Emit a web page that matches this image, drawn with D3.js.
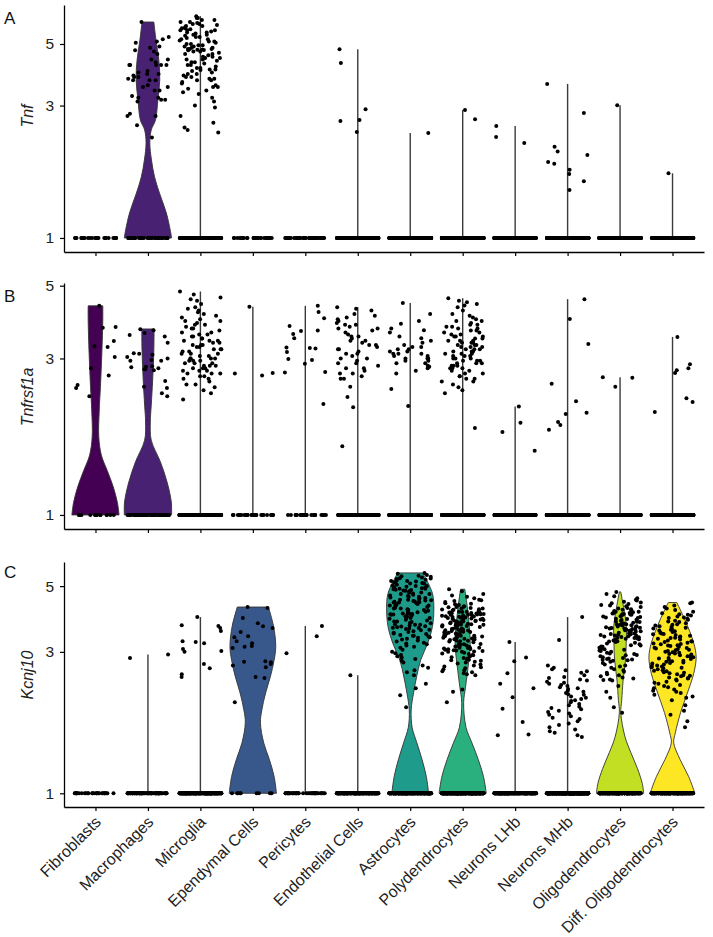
<!DOCTYPE html>
<html><head><meta charset="utf-8">
<script src="https://cdn.jsdelivr.net/npm/d3@7"></script>
<style>body{margin:0;background:#fff} text{font-family:"Liberation Sans",Arial,sans-serif}</style>
</head><body><svg id="c" width="713" height="937"></svg>
<script>
const categories = ["Fibroblasts","Macrophages","Microglia","Ependymal Cells","Pericytes","Endothelial Cells","Astrocytes","Polydendrocytes","Neurons LHb","Neurons MHb","Oligodendrocytes","Diff. Oligodendrocytes"];
const cellCounts = [28, 85, 280, 32, 45, 220, 420, 520, 260, 520, 380, 340];
const yTickValues = [1, 3, 5];
const genes = ["Tnf", "Tnfrsf1a", "Kcnj10"];
const panelLetters = ["A", "B", "C"];

// expressed values (plotted scale; 1 = not expressed), one list per category
const tnfValues = [
 [],
 [6.0,5.3,5.2,5.1,5.05,4.9,4.85,4.75,4.7,4.6,4.4,4.4,4.3,4.2,4.2,4.2,4.2,4.2,4.0,3.95,3.9,3.9,3.85,3.8,3.8,3.75,3.7,3.7,3.7,3.55,3.5,3.5,3.4,3.4,3.25,3.2,3.2,3.15,3.15,3.1,2.8,2.75,2.75,2.55,2.3],
 [6.3,6.2,6.2,6.1,6.1,6.0,6.0,5.95,5.9,5.9,5.85,5.8,5.8,5.75,5.7,5.7,5.65,5.6,5.6,5.6,5.55,5.5,5.5,5.45,5.4,5.4,5.35,5.3,5.3,5.25,5.2,5.2,5.15,5.1,5.1,5.05,5.0,5.0,4.95,4.95,4.9,4.9,4.85,4.85,4.8,4.8,4.8,4.78,4.77,4.76,4.75,4.7,4.7,4.65,4.6,4.6,4.55,4.5,4.5,4.45,4.45,4.4,4.4,4.35,4.3,4.3,4.25,4.2,4.2,4.15,4.1,4.1,4.05,4.05,4.03,4.0,3.95,3.9,3.9,3.85,3.8,3.8,3.75,3.75,3.7,3.7,3.65,3.6,3.55,3.5,3.5,3.45,3.4,3.35,3.3,3.2,3.1,3.0,2.95,2.75,2.6,2.5,2.45,2.4],
 [],
 [],
 [4.79,4.27,2.91,2.66,2.64,2.41],
 [2.39],
 [2.89,2.68],
 [2.53,2.31,2.2],
 [3.59,2.82,2.13,2.05,1.99,1.88,1.85,1.76,1.70,1.60,1.49],
 [3.01],
 [1.71]
];
const tnfrsf1aValues = [
 [4.34,3.74,3.72,3.39,3.27,3.25,3.03,2.80,2.66,2.49,2.44,2.30],
 [3.68,3.66,3.59,3.54,3.5,3.35,3.11,3.08,3.03,2.95,2.97,3.0,3.1,2.95,2.8,2.78,2.76,2.82,2.84,2.83,2.78,2.56,2.46,2.44,2.30,2.35],
 [4.8,4.7,4.6,4.55,4.5,4.4,4.3,4.25,4.2,4.15,4.1,4.05,4.0,3.95,3.9,3.9,3.85,3.8,3.8,3.75,3.7,3.7,3.65,3.6,3.6,3.55,3.55,3.5,3.5,3.45,3.45,3.4,3.4,3.4,3.35,3.35,3.3,3.3,3.3,3.25,3.25,3.2,3.2,3.2,3.15,3.15,3.1,3.1,3.1,3.05,3.05,3.0,3.0,3.0,3.0,2.95,2.95,2.95,2.9,2.9,2.9,2.85,2.85,2.85,2.8,2.8,2.8,2.75,2.75,2.75,2.7,2.7,2.7,2.65,2.65,2.6,2.6,2.55,2.5,2.5,2.45,2.4,2.35,2.25],
 [4.31,2.71,2.70,2.66],
 [4.34,4.16,3.98,3.77,3.65,3.64,3.46,3.56,3.24,3.23,3.22,3.14,2.99,2.97,2.89,2.73,2.72,2.18],
 [4.3,4.25,4.2,4.1,4.05,4.0,3.95,3.9,3.85,3.8,3.8,3.75,3.7,3.7,3.65,3.6,3.55,3.5,3.5,3.45,3.4,3.4,3.35,3.3,3.3,3.25,3.2,3.2,3.15,3.1,3.1,3.05,3.0,3.0,2.95,2.9,2.9,2.85,2.8,2.8,2.75,2.7,2.7,2.65,2.6,2.6,2.46,2.29,2.13,1.62],
 [4.43,4.1,3.9,3.83,3.7,3.66,3.6,3.5,3.46,3.4,3.35,3.3,3.25,3.25,3.2,3.2,3.15,3.15,3.1,3.1,3.1,3.05,3.05,3.0,3.0,3.0,2.95,2.95,2.9,2.9,2.85,2.83,2.8,2.75,2.7,2.42,2.15],
 [4.58,4.5,4.45,4.4,4.35,4.3,4.2,4.1,4.05,4.0,3.95,3.9,3.9,3.85,3.8,3.8,3.75,3.75,3.7,3.7,3.65,3.65,3.6,3.6,3.55,3.55,3.5,3.5,3.5,3.45,3.45,3.4,3.4,3.4,3.35,3.35,3.35,3.3,3.3,3.3,3.25,3.25,3.25,3.2,3.2,3.2,3.15,3.15,3.15,3.1,3.1,3.1,3.05,3.05,3.05,3.0,3.0,3.0,2.95,2.95,2.95,2.9,2.9,2.9,2.85,2.85,2.85,2.8,2.8,2.8,2.75,2.75,2.7,2.7,2.65,2.65,2.6,2.6,2.55,2.55,2.5,2.45,2.4,2.35,1.84],
 [2.14,1.91,1.79,1.57],
 [4.55,3.96,3.32,2.51,2.22,2.05,2.03,1.92,1.88,1.82],
 [2.63,2.62,2.46],
 [3.49,2.88,2.80,2.76,2.71,2.27,2.21,2.06]
];
const kcnj10Values = [
 [],
 [2.94,2.86],
 [3.93,3.69,3.67,3.61,3.53,3.26,3.24,3.21,3.07,3.02,3.0,2.73,2.64,2.52,2.47],
 [4.25,4.22,3.9,3.75,3.66,3.61,3.5,3.39,3.36,3.26,3.21,3.14,3.12,3.09,2.79,2.78,2.77,2.73,2.7,2.66,2.47,2.45,2.03],
 [3.67,3.39,2.97],
 [2.5],
 [5.54,5.5,5.45,5.42,5.4,5.38,5.35,5.32,5.3,5.28,5.25,5.22,5.2,5.2,5.18,5.15,5.12,5.1,5.1,5.08,5.05,5.02,5.0,5.0,4.98,4.95,4.95,4.92,4.9,4.9,4.88,4.86,4.85,4.83,4.82,4.8,4.78,4.76,4.75,4.72,4.7,4.7,4.68,4.65,4.63,4.6,4.6,4.58,4.56,4.55,4.52,4.5,4.5,4.48,4.47,4.45,4.44,4.43,4.42,4.41,4.4,4.4,4.38,4.36,4.35,4.33,4.3,4.3,4.28,4.25,4.23,4.2,4.2,4.18,4.16,4.15,4.13,4.1,4.1,4.08,4.06,4.05,4.04,4.03,4.02,4.01,4.0,4.0,3.98,3.96,3.95,3.92,3.9,3.9,3.88,3.85,3.83,3.8,3.8,3.78,3.76,3.75,3.72,3.7,3.7,3.68,3.66,3.65,3.63,3.62,3.61,3.6,3.58,3.56,3.55,3.52,3.5,3.48,3.46,3.45,3.42,3.4,3.4,3.38,3.36,3.35,3.32,3.3,3.28,3.25,3.22,3.2,3.18,3.15,3.12,3.1,3.05,3.0,2.97,2.93,2.9,2.87,2.84,2.8,2.76,2.7,2.65,2.6,2.56,2.5,2.34,2.26,2.14,1.95],
 [4.88,4.8,4.7,4.65,4.6,4.55,4.5,4.48,4.45,4.42,4.38,4.36,4.34,4.32,4.3,4.28,4.26,4.25,4.24,4.22,4.2,4.2,4.18,4.17,4.16,4.14,4.12,4.1,4.1,4.09,4.08,4.07,4.06,4.05,4.04,4.03,4.02,4.01,4.0,4.0,3.99,3.98,3.97,3.96,3.95,3.94,3.93,3.92,3.91,3.9,3.9,3.89,3.88,3.87,3.86,3.85,3.84,3.83,3.82,3.81,3.8,3.8,3.78,3.77,3.76,3.75,3.74,3.73,3.72,3.71,3.7,3.7,3.69,3.68,3.67,3.66,3.65,3.64,3.62,3.6,3.59,3.58,3.57,3.56,3.55,3.54,3.53,3.52,3.51,3.5,3.5,3.49,3.48,3.47,3.46,3.45,3.44,3.43,3.42,3.41,3.4,3.4,3.39,3.38,3.37,3.36,3.35,3.34,3.33,3.32,3.31,3.3,3.3,3.29,3.28,3.27,3.26,3.25,3.23,3.21,3.19,3.18,3.17,3.16,3.15,3.14,3.13,3.12,3.11,3.1,3.1,3.09,3.08,3.07,3.06,3.05,3.04,3.03,3.02,3.01,3.0,3.0,2.98,2.96,2.95,2.93,2.92,2.9,2.88,2.86,2.85,2.83,2.82,2.81,2.8,2.78,2.76,2.74,2.72,2.7,2.68,2.66,2.64,2.62,2.6,2.58,2.56,2.54,2.52,2.5,2.24,2.2,2.03],
 [3.24,2.87,2.79,2.54,2.34,2.26,2.11,1.93,1.74,1.58,1.57],
 [3.93,3.29,2.7,2.65,2.62,2.6,2.58,2.55,2.5,2.47,2.45,2.42,2.4,2.38,2.36,2.34,2.32,2.3,2.28,2.26,2.25,2.22,2.2,2.18,2.16,2.15,2.12,2.1,2.08,2.06,2.05,2.03,2.0,1.98,1.96,1.94,1.92,1.9,1.88,1.86,1.84,1.82,1.8,1.78,1.75,1.72,1.7,1.67,1.64,1.62,1.6,1.57,1.55],
 [4.78,4.7,4.62,4.55,4.5,4.47,4.43,4.4,4.38,4.35,4.32,4.3,4.28,4.25,4.22,4.2,4.18,4.16,4.14,4.12,4.1,4.1,4.08,4.06,4.05,4.04,4.03,4.02,4.01,4.0,3.98,3.96,3.95,3.93,3.92,3.9,3.88,3.87,3.85,3.84,3.82,3.8,3.79,3.78,3.76,3.75,3.74,3.72,3.71,3.7,3.69,3.68,3.66,3.65,3.64,3.63,3.62,3.61,3.6,3.6,3.58,3.57,3.56,3.55,3.54,3.53,3.52,3.51,3.5,3.49,3.48,3.47,3.46,3.45,3.44,3.43,3.42,3.41,3.4,3.39,3.38,3.37,3.36,3.35,3.34,3.33,3.32,3.31,3.3,3.28,3.26,3.25,3.24,3.22,3.2,3.18,3.16,3.15,3.13,3.12,3.1,3.08,3.06,3.05,3.03,3.02,3.0,2.98,2.96,2.95,2.93,2.92,2.9,2.88,2.86,2.85,2.84,2.83,2.82,2.81,2.8,2.78,2.75,2.72,2.7,2.68,2.65,2.62,2.6,2.57,2.55,2.52,2.5,2.48,2.46,2.44,2.42,2.41,2.4,2.3,2.2,2.1,1.95,1.87],
 [4.4,4.38,4.3,4.25,4.2,4.15,4.1,4.05,4.02,4.0,3.98,3.95,3.92,3.9,3.88,3.85,3.82,3.8,3.78,3.75,3.72,3.7,3.68,3.66,3.64,3.62,3.6,3.58,3.56,3.54,3.52,3.5,3.48,3.46,3.45,3.44,3.42,3.4,3.38,3.36,3.35,3.34,3.32,3.3,3.28,3.26,3.25,3.24,3.22,3.2,3.19,3.18,3.16,3.15,3.14,3.12,3.1,3.09,3.08,3.06,3.05,3.04,3.02,3.0,2.99,2.98,2.96,2.95,2.94,2.92,2.9,2.89,2.88,2.86,2.85,2.84,2.82,2.8,2.79,2.78,2.76,2.75,2.74,2.72,2.7,2.69,2.68,2.66,2.65,2.64,2.62,2.6,2.59,2.58,2.56,2.55,2.54,2.52,2.5,2.49,2.48,2.46,2.45,2.44,2.42,2.4,2.38,2.36,2.34,2.32,2.3,2.28,2.26,2.24,2.22,2.2,2.18,2.15,2.12,2.1,2.06,1.98,1.9,1.84,1.75,1.67]
];

// violin density profiles: [value, relative half-width]
const tnfViolins = {
 "Macrophages": [[1.0,1.0],[1.04,0.97],[1.23,0.78],[1.45,0.49],[1.66,0.28],[1.91,0.15],[2.2,0.08],[2.45,0.14],[2.66,0.32],[3.14,0.42],[3.71,0.5],[4.38,0.46],[5.17,0.34],[6.0,0.25]]
};
const tnfrsf1aViolins = {
 "Fibroblasts": [[1.0,1.0],[1.09,0.93],[1.22,0.75],[1.37,0.49],[1.52,0.25],[1.73,0.14],[2.09,0.16],[2.46,0.21],[3.11,0.27],[3.93,0.31],[4.34,0.31]],
 "Macrophages": [[1.0,1.0],[1.095,0.99],[1.26,0.81],[1.45,0.53],[1.69,0.14],[1.92,0.1],[2.16,0.14],[2.58,0.2],[3.18,0.25],[3.69,0.26]]
};
const kcnj10Violins = {
 "Ependymal Cells": [[1.0,1.0],[1.14,0.9],[1.30,0.7],[1.48,0.46],[1.73,0.32],[1.91,0.38],[2.18,0.54],[2.47,0.74],[2.81,0.9],[3.12,0.97],[3.65,0.88],[4.25,0.66]],
 "Astrocytes": [[1.0,0.78],[1.14,0.68],[1.30,0.5],[1.48,0.28],[1.67,0.08],[1.91,0.04],[2.18,0.14],[2.47,0.27],[2.81,0.44],[3.21,0.74],[3.65,0.94],[4.15,1.0],[4.73,0.94],[5.54,0.53]],
 "Polydendrocytes": [[1.0,1.0],[1.14,0.88],[1.30,0.66],[1.48,0.39],[1.67,0.14],[2.02,0.04],[2.28,0.12],[2.60,0.21],[3.21,0.32],[4.15,0.21],[4.88,0.09]],
 "Oligodendrocytes": [[1.0,1.0],[1.08,0.94],[1.21,0.74],[1.37,0.46],[1.55,0.21],[1.87,0.03],[2.06,0.07],[2.41,0.13],[2.81,0.23],[3.21,0.26],[3.65,0.27],[4.15,0.17],[4.78,0.03]],
 "Diff. Oligodendrocytes": [[1.0,0.95],[1.14,0.68],[1.30,0.32],[1.48,0.05],[1.60,0.12],[1.87,0.34],[2.18,0.63],[2.54,0.9],[2.88,1.0],[3.21,0.9],[3.84,0.53],[4.4,0.18]]
};

const svg = d3.select("#c");
const x = d3.scalePoint().domain(categories).range([64, 704]).padding(0.6);
const step = x.step();
const violinHalf = 0.45 * step;
const jitterHalf = 0.4 * step;
const color = d3.scaleOrdinal().domain(categories)
  .range(categories.map((c, i) => d3.interpolateViridis(i / (categories.length - 1))));

const panels = [
 {values: tnfValues, violins: tnfViolins, domain: [0.89, 6.91], range: [252, 5], titleY: 116, letterY: 24},
 {values: tnfrsf1aValues, violins: tnfrsf1aViolins, domain: [0.906, 5.096], range: [529, 283], titleY: 397, letterY: 302},
 {values: kcnj10Values, violins: kcnj10Violins, domain: [0.899, 6.03], range: [807, 562], titleY: 675, letterY: 578}
];

panels.forEach((p, pi) => {
  const y = d3.scaleLog().domain(p.domain).range(p.range);
  const g = svg.append("g");
  const marks = g.append("g");
  categories.forEach((c, ci) => {
    const cx = x(c);
    const vals = p.values[ci];
    if (p.violins[c]) {
      const area = d3.area().curve(d3.curveCatmullRom.alpha(0.5))
        .y(d => y(d[0])).x0(d => cx - d[1] * violinHalf).x1(d => cx + d[1] * violinHalf);
      marks.append("path").attr("d", area(p.violins[c]))
        .attr("fill", color(c)).attr("stroke", "#333").attr("stroke-width", 0.9);
    } else if (vals.length) {
      marks.append("line").attr("x1", cx).attr("x2", cx)
        .attr("y1", y(1)).attr("y2", y(d3.max(vals)))
        .attr("stroke", "#3a3a3a").attr("stroke-width", 1.4);
    }
  });
  const rnd = d3.randomUniform.source(d3.randomLcg(0.137 + pi * 0.211))(-jitterHalf, jitterHalf);
  const pts = [];
  categories.forEach((c, ci) => {
    const vals = p.values[ci];
    const zeros = Math.max(cellCounts[ci] - vals.length, 0);
    for (let k = 0; k < zeros; k++) pts.push({c, v: 1, j: rnd()});
    vals.forEach(v => pts.push({c, v, j: rnd()}));
  });
  g.append("g").selectAll("circle").data(pts).join("circle")
    .attr("cx", d => x(d.c) + d.j).attr("cy", d => y(d.v)).attr("r", 2).attr("fill", "#000");

  // axes
  const ya = g.append("g").attr("transform", "translate(64,0)")
    .call(d3.axisLeft(y).tickValues(yTickValues).tickFormat(d3.format("d")).tickSize(4).tickSizeOuter(0).tickPadding(6));
  const xa = g.append("g").attr("transform", `translate(0,${p.range[0]})`)
    .call(d3.axisBottom(x).tickSize(4).tickSizeOuter(0));
  [ya, xa].forEach(a => {
    a.select(".domain").attr("stroke", "#000").attr("stroke-width", 1.3);
    a.selectAll(".tick line").attr("stroke", "#000").attr("stroke-width", 1.2);
    a.selectAll("text").attr("fill", "#222").style("font-size", "15.5px").style("font-family", '"Liberation Sans",Arial,sans-serif');
  });
  if (pi < 2) {
    xa.selectAll(".tick text").remove();
  } else {
    xa.selectAll(".tick text").attr("x", 0).attr("y", 0).attr("dy", null)
      .attr("text-anchor", "end").attr("transform", "translate(6,16) rotate(-45)")
      .style("font-size", "16px");
  }
  // gene title
  g.append("text").attr("transform", `translate(33,${p.titleY}) rotate(-90)`)
    .attr("text-anchor", "middle").attr("font-style", "italic").attr("font-size", 16).attr("fill", "#222")
    .text(genes[pi]);
  g.append("text").attr("x", 4).attr("y", p.letterY).attr("font-size", 17).attr("fill", "#111").text(panelLetters[pi]);
});
</script>
</body></html>
